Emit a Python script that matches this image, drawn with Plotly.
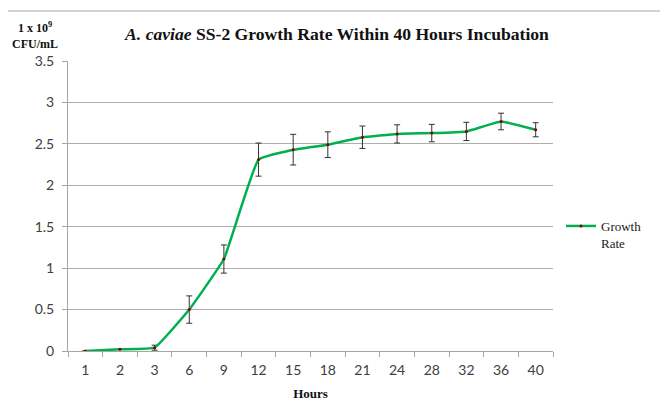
import plotly.graph_objects as go

hours = ["1", "2", "3", "6", "9", "12", "15", "18", "21", "24", "28", "32", "36", "40"]
growth = [0.0, 0.02, 0.04, 0.50, 1.11, 2.31, 2.43, 2.49, 2.58, 2.62, 2.63, 2.65, 2.77, 2.67]
errors = [0.0, 0.0, 0.03, 0.165, 0.17, 0.20, 0.185, 0.155, 0.135, 0.11, 0.105, 0.11, 0.10, 0.085]
y_ticks = [0, 0.5, 1, 1.5, 2, 2.5, 3, 3.5]

# page body adds an 8px offset; compensate so the screenshot matches
OFF = 8
W, H = 668 - OFF, 401 - OFF
L, T = 68 - OFF, 61 - OFF
pw, ph = 485, 290
R, B = W - L - pw, H - T - ph

fig = go.Figure()
fig.add_trace(go.Scatter(
    x=hours, y=growth, name="Growth<br>Rate", mode="lines+markers",
    line=dict(color="#00B050", width=2.5, shape="spline", smoothing=0.3),
    marker=dict(color="#8B0000", size=3),
    error_y=dict(type="data", array=errors, visible=True, color="#333333", thickness=1, width=3),
))

# outer frame (top and left edges visible)
fx0 = (7 - OFF - L) / pw
fy1 = 1 + (T - (11 - OFF)) / ph
fig.add_shape(type="line", xref="paper", yref="paper", x0=fx0, x1=(W - L) / pw, y0=fy1, y1=fy1,
              line=dict(color="#A6A6A6", width=1))
fig.add_shape(type="line", xref="paper", yref="paper", x0=fx0, x1=fx0, y0=fy1, y1=-B / ph,
              line=dict(color="#A6A6A6", width=1))

fig.update_layout(
    width=W, height=H,
    margin=dict(l=L, r=R, t=T, b=B, autoexpand=False),
    paper_bgcolor="white", plot_bgcolor="white",
    showlegend=True,
    legend=dict(x=(561 - 68) / pw, y=(351 - 211) / ph, xanchor="left", yanchor="top",
                valign="top", itemwidth=30,
                font=dict(family="Liberation Serif", size=13, color="#222222"),
                bgcolor="rgba(0,0,0,0)"),
    title=dict(text="<i>A. caviae</i> SS-2 Growth Rate Within 40 Hours Incubation",
               font=dict(family="Liberation Serif", size=17.6, color="#111111", weight="bold"),
               x=(337 - OFF) / W, xanchor="center", y=1 - (34 - OFF) / H, yanchor="middle"),
    font=dict(family="Lato", size=14, color="#404040"),
)

fig.update_xaxes(
    type="category", range=[-0.5, len(hours) - 0.5],
    showline=True, linecolor="#A6A6A6", linewidth=1,
    ticks="outside", ticklen=5, tickcolor="#A6A6A6", tickson="boundaries",
    ticklabelstandoff=6,
    showgrid=False, zeroline=False, automargin=False,
    tickfont=dict(family="Lato", size=14, color="#404040"),
    title=dict(text="<b>Hours</b>", font=dict(family="Liberation Serif", size=13, color="#111111"), standoff=14),
)
fig.update_yaxes(
    range=[0, 3.5], tickvals=y_ticks, ticktext=[f"{v:g}" for v in y_ticks],
    showline=True, linecolor="#A6A6A6", linewidth=1,
    ticks="outside", ticklen=5, tickcolor="#A6A6A6", ticklabelstandoff=5,
    showgrid=True, gridcolor="#ADADAD", gridwidth=1, zeroline=False, automargin=False,
    tickfont=dict(family="Lato", size=14, color="#404040"),
)

fig.add_annotation(xref="paper", yref="paper", x=(35 - 68) / pw, y=1 + (61 - 36) / ph,
                   text="<b>1 x 10<sup>9</sup><br>CFU/mL</b>", showarrow=False,
                   xanchor="center", yanchor="middle",
                   font=dict(family="Liberation Serif", size=12, color="#111111"))

fig.write_html("out.html")
